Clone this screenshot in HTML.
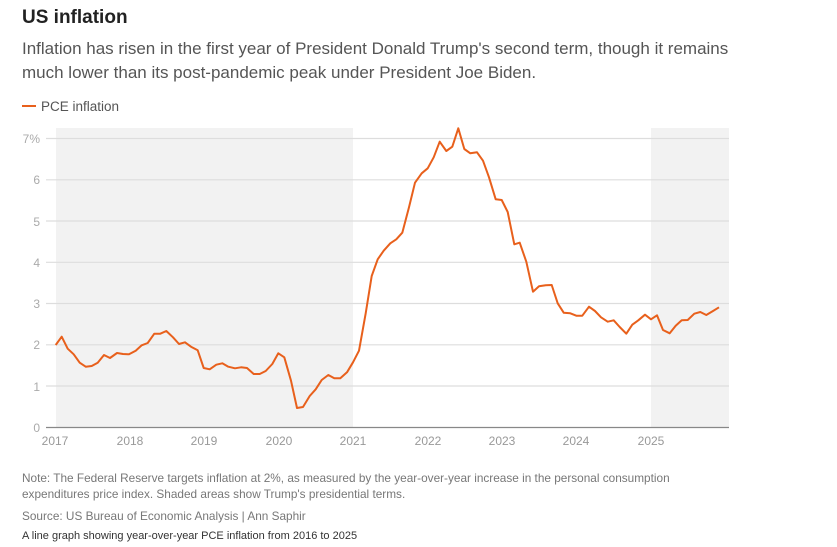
<!DOCTYPE html>
<html><head><meta charset="utf-8"><style>
body{margin:0;background:#fff;font-family:"Liberation Sans",sans-serif;width:837px;height:547px;overflow:hidden;position:relative}
.t{position:absolute;left:22px;top:7px;font-size:19px;font-weight:bold;color:#222}
.s{position:absolute;left:22px;top:37px;font-size:17px;line-height:24px;color:#555;width:725px}
.n{position:absolute;left:22px;font-size:11.8px;color:#777;line-height:16px}
</style></head><body>
<div class="t">US inflation</div>
<div class="s">Inflation has risen in the first year of President Donald Trump's second term, though it remains much lower than its post-pandemic peak under President Joe Biden.</div>
<svg width="837" height="547" style="position:absolute;left:0;top:0" font-family="Liberation Sans, sans-serif">
<line x1="22" y1="106" x2="36" y2="106" stroke="#e8601c" stroke-width="2"/>
<text x="41" y="111" font-size="13.5" fill="#555">PCE inflation</text>
<rect x="56" y="128" width="297" height="299" fill="#f2f2f2"/>
<rect x="651" y="128" width="78" height="299" fill="#f2f2f2"/>
<g stroke="#ddd" stroke-width="1.2">
<line x1="46" y1="138.5" x2="729" y2="138.5"/><line x1="46" y1="179.8" x2="729" y2="179.8"/><line x1="46" y1="221" x2="729" y2="221"/><line x1="46" y1="262.3" x2="729" y2="262.3"/><line x1="46" y1="303.5" x2="729" y2="303.5"/><line x1="46" y1="344.8" x2="729" y2="344.8"/><line x1="46" y1="386" x2="729" y2="386"/>
</g>
<line x1="46" y1="427.5" x2="729" y2="427.5" stroke="#888" stroke-width="1.2"/>
<g font-size="12" fill="#aaa" text-anchor="end">
<text x="40" y="143">7%</text><text x="40" y="184">6</text><text x="40" y="226">5</text><text x="40" y="267">4</text><text x="40" y="308">3</text><text x="40" y="349">2</text><text x="40" y="391">1</text><text x="40" y="432">0</text>
</g>
<g font-size="12" fill="#999" text-anchor="middle">
<text x="55" y="445">2017</text><text x="130" y="445">2018</text><text x="204" y="445">2019</text><text x="279" y="445">2020</text><text x="353" y="445">2021</text><text x="428" y="445">2022</text><text x="502" y="445">2023</text><text x="576" y="445">2024</text><text x="651" y="445">2025</text>
</g>
<polyline fill="none" stroke="#e8601c" stroke-width="2" stroke-linejoin="round" points="55.7,345 61.7,336.7 67.7,348.7 73.7,354.3 79.7,362.7 85.7,366.7 91.7,366 97.7,362.7 104,355 110,358 117,353 123,354 129,354.3 135.7,350.7 141.7,345.3 147.7,343 154.3,333.7 160.3,333.7 166.3,331 173,337.3 179,344 185,342.3 191,346.7 197.7,350.3 203.7,368 209.7,369.3 216.3,364.7 222.3,363.3 228.3,366.7 235,368.3 241,367.3 247,368 253.7,374 259.7,374 265.7,371 272.3,364 278.3,353.3 284.3,357.3 291,380.7 297,408 303,407 309.7,396 315.7,389.3 321.7,380 328.3,375 334.3,378.3 340.3,378.3 347,372.3 353,362.3 359,350.7 365.7,313.3 371.7,276 377.7,259.3 383.7,250.7 390.3,243.3 396.3,239.3 402.3,232.7 409,207.3 415,182.7 421.7,173.3 427.7,168.3 433.7,157.3 439.7,141.7 446.3,151 452.3,146.7 458.3,128.3 464.3,149 470.3,153.3 477,152.3 483,160.7 489,177.3 495.7,199.3 501.7,200 507.7,212 514.3,244.3 519.7,242.7 526.3,261.7 533,291.7 539,286.3 545.7,285.3 551.7,285 557.7,303.3 563.7,312.7 570.3,313.3 576.3,315.7 582.3,315.7 589,306.7 595,311 601,317.3 607.7,321.7 613.7,320.3 619.7,327 626.3,333.7 632.3,324.7 638.3,320.3 645,314.7 651,319.3 657,315.3 663,330 669.7,333.3 675.7,325.7 681.7,320.3 687.7,320 694.3,313.7 700.3,312 706.3,315 713,311 719,307.3"/>
</svg>
<div class="n" style="top:470px;width:700px">Note: The Federal Reserve targets inflation at 2%, as measured by the year-over-year increase in the personal consumption expenditures price index. Shaded areas show Trump's presidential terms.</div>
<div class="n" style="top:508px">Source: US Bureau of Economic Analysis | Ann Saphir</div>
<div class="n" style="top:528px;color:#333;font-size:11px">A line graph showing year-over-year PCE inflation from 2016 to 2025</div>
</body></html>
